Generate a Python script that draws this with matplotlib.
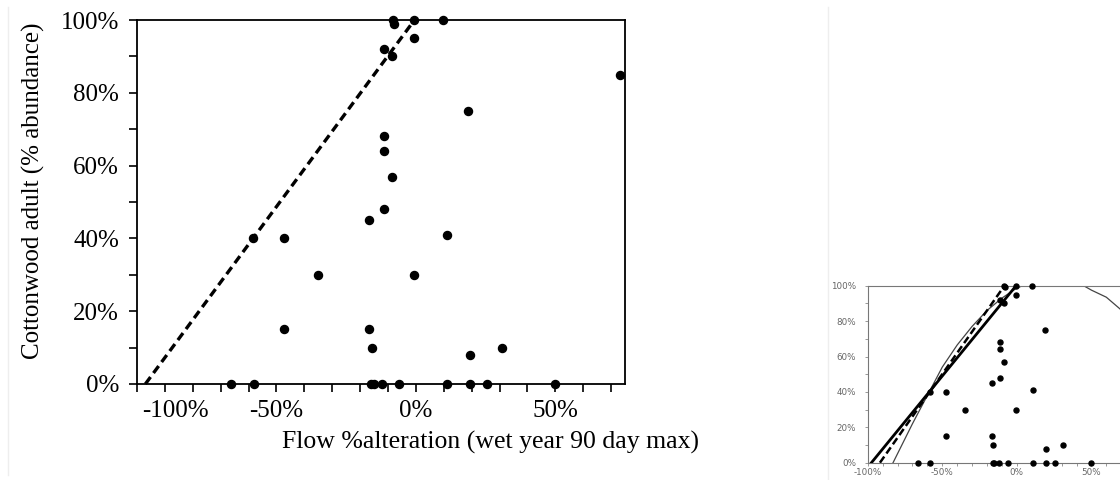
import matplotlib
matplotlib.use("Agg")
import matplotlib.pyplot as plt
from matplotlib.lines import Line2D
import numpy as np

plt.rcParams['font.family'] = ['Liberation Serif', 'DejaVu Serif']

# ---- data (percent) ----
flow_alt = [-8.3, -8.0, -0.5, 9.9, -0.5, -11.4, -8.5, 73.1, 18.7, -11.4,
            -11.4, -8.5, -11.4, -16.8, 11.0, -58.3, -47.3, -35.0, -0.5,
            -47.3, -16.8, -15.7, 30.9, 19.4,
            -66.2, -58.1, -16.2, -15.1, -12.0, -6.1, 11.0, 19.4, 25.4, 49.9]
cottonwood = [100, 99, 100, 100, 95, 92, 90, 85, 75, 68,
              64, 57, 48, 45, 41, 40, 40, 30, 30,
              15, 15, 10, 10, 8,
              0, 0, 0, 0, 0, 0, 0, 0, 0, 0]

# threshold line (main chart)
thresh_x = [-97.0, -0.5]
thresh_y = [0, 100]

# inset fits
fit_thick_x = [-97.5, -0.5]
fit_thick_y = [0, 100]
fit_dash_x = [-91.8, -8.3]
fit_dash_y = [0, 100]
curve_x = [-83, -70, -60, -50, -40, -30, -20, -10, 0, 10, 20, 30, 40, 50, 60, 69, 75]
curve_y = [0, 22, 38, 54, 66.5, 77, 86, 93, 98.7, 102, 104, 104, 102.3, 97.5, 93.5, 87, 82]

x_major = [-100, -50, 0, 50]
x_labels = ["-100%", "-50%", "0%", "50%"]
y_major = [0, 20, 40, 60, 80, 100]
y_labels = ["0%", "20%", "40%", "60%", "80%", "100%"]

fig = plt.figure(figsize=(11.2, 4.8), dpi=100)
fig.patch.set_facecolor("white")

serif = ['Liberation Serif', 'DejaVu Serif']
sans = ['DejaVu Sans']
FS = 18

# faint frame lines
fig.add_artist(Line2D([7.5/1120, 7.5/1120], [0.01, 0.985], color="#eeeeee", lw=1))
fig.add_artist(Line2D([828/1120, 828/1120], [0.0, 0.985], color="#eeeeee", lw=1))

# ---- main axes ----
ax = fig.add_axes([137/1120, 96/480, 488/1120, 364/480])
ax.plot(flow_alt, cottonwood, "o", color="black", markersize=5.8, zorder=3, clip_on=False)
ax.plot(thresh_x, thresh_y, color="black", lw=2.4, dashes=(2.6, 1.5), zorder=2, clip_on=False)
ax.set_xlim(-100, 75)
ax.set_ylim(0, 100)
xt = np.arange(-100, 76, 10)
ax.set_xticks(xt)
ax.set_xticklabels([""] * len(xt))
ax.set_yticks(np.arange(0, 101, 10))
ax.set_yticklabels([y_labels[i // 2] if i % 2 == 0 else "" for i in range(11)],
                   fontfamily=serif, fontsize=FS)
ax.tick_params(axis="both", which="major", direction="out", length=6, width=1.2, color="black")
ax.tick_params(axis="y", pad=7)
for s in ax.spines.values():
    s.set_linewidth(1.3)
    s.set_color("black")
# x tick labels placed manually for alignment
for v, lab in zip(x_major, x_labels):
    ha = "center"
    xx = v
    if v == -100:
        xx = -98.2
        ha = "left"
    ax.text(xx, -4.3, lab, ha=ha, va="top", fontfamily=serif, fontsize=FS)
ax.text(0.725, -0.128, "Flow %alteration (wet year 90 day max)", transform=ax.transAxes,
        ha="center", va="top", fontfamily=serif, fontsize=18.5)
ax.set_ylabel("Cottonwood adult (% abundance)", fontfamily=serif, fontsize=FS)
ax.yaxis.set_label_coords(-0.188, 0.53)

# ---- inset ----
ins = fig.add_axes([867.7/1120, 17.3/480, 261/1120, 177/480])
ins.plot(flow_alt, cottonwood, "o", color="black", markersize=3.6, zorder=4, clip_on=False)
ins.plot(fit_thick_x, fit_thick_y, color="black", lw=2.0, zorder=3)
ins.plot(fit_dash_x, fit_dash_y, color="black", lw=1.8, dashes=(3, 1.5), zorder=3)
ins.plot(curve_x, curve_y, color="#444444", lw=0.9, zorder=2)
ins.set_xlim(-100, 75)
ins.set_ylim(0, 100)
ins.set_xticks(x_major)
ins.set_xticklabels(x_labels, fontsize=6.3, color="#666666", fontfamily=sans)
ins.set_xticks(np.arange(-100, 76, 10), minor=True)
ins.set_yticks(y_major)
ins.set_yticklabels(y_labels, fontsize=6.3, color="#666666", fontfamily=sans)
ins.set_yticks(np.arange(0, 101, 10), minor=True)
ins.tick_params(axis="both", which="both", direction="out", length=2.5, width=0.6, color="#888888", pad=1.5)
ins.tick_params(axis="y", which="major", pad=6)
for s in ins.spines.values():
    s.set_linewidth(0.8)
    s.set_color("#777777")

fig.savefig("out.png", dpi=100, facecolor="white")
